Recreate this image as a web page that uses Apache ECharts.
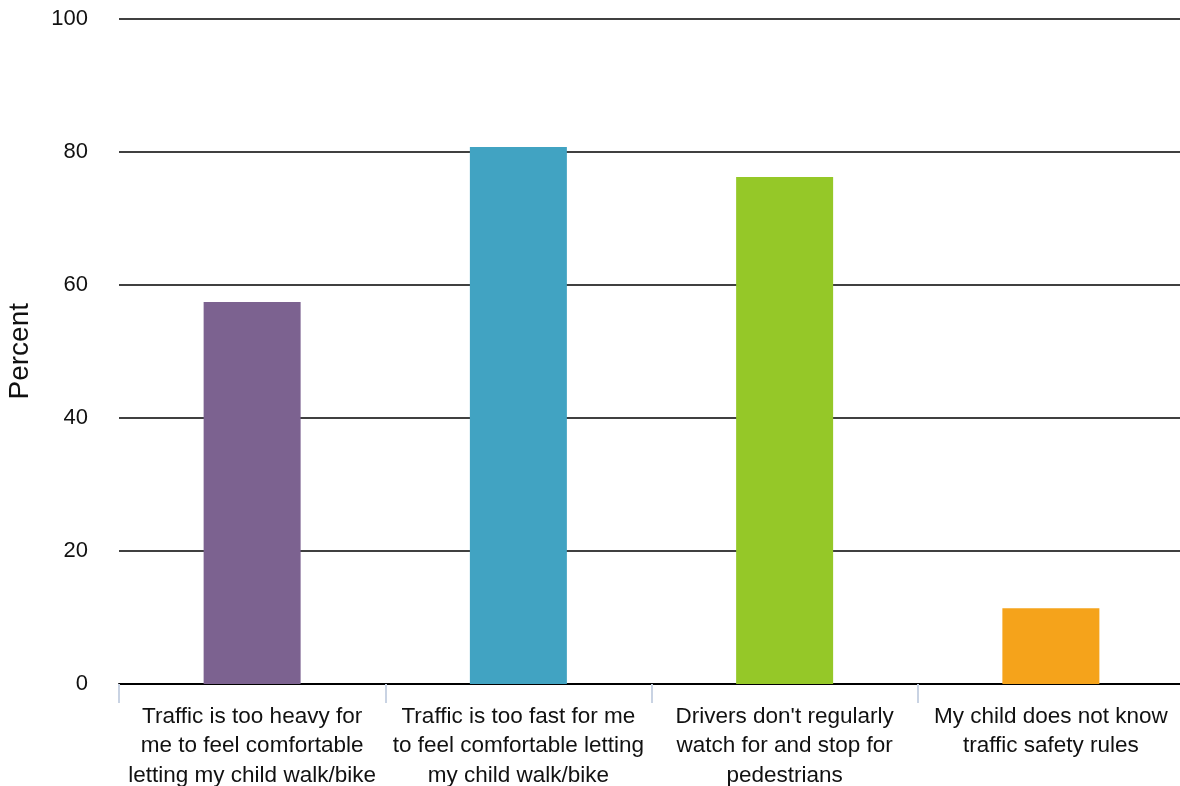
<!DOCTYPE html>
<html>
<head>
<meta charset="utf-8">
<script src="https://cdn.jsdelivr.net/npm/echarts@6/dist/echarts.min.js"></script>
<style>
html,body{margin:0;padding:0;background:#fff;}
#chart{width:1180px;height:786px;}
</style>
</head>
<body>
<div id="chart"></div>
<script>
const categories = [
  "Traffic is too heavy for\nme to feel comfortable\nletting my child walk/bike",
  "Traffic is too fast for me\nto feel comfortable letting\nmy child walk/bike",
  "Drivers don't regularly\nwatch for and stop for\npedestrians",
  "My child does not know\ntraffic safety rules"
];
const values = [57.4, 80.7, 76.2, 11.4];
const barColors = ["#7c6290", "#41a3c2", "#95c828", "#f5a31b"];
const yTicks = [0, 20, 40, 60, 80, 100];

const chart = echarts.init(document.getElementById('chart'));
chart.setOption({
  animation: false,
  backgroundColor: '#ffffff',
  grid: { left: 119, top: 18.5, width: 1065, height: 665.5, containLabel: false, outerBoundsMode: 'none' },
  xAxis: {
    type: 'category',
    data: categories,
    axisLine: { show: true, lineStyle: { color: '#000', width: 2 } },
    axisTick: { show: true, length: 19, lineStyle: { color: '#c9d3e3', width: 2 }, alignWithLabel: false },
    axisLabel: {
      interval: 0, margin: 18, color: '#111', fontSize: 22.5,
      fontFamily: 'Liberation Sans, Arial, sans-serif', lineHeight: 29.5, align: 'center'
    }
  },
  yAxis: {
    type: 'value',
    min: 0, max: 100, interval: 20,
    name: 'Percent',
    nameLocation: 'middle',
    nameGap: 85,
    nameRotate: 90,
    nameTextStyle: { color: '#111', fontSize: 28, fontFamily: 'Liberation Sans, Arial, sans-serif' },
    axisLine: { show: false },
    axisTick: { show: false },
    axisLabel: {
      margin: 31, color: '#111', fontSize: 22,
      fontFamily: 'Liberation Sans, Arial, sans-serif',
      formatter: v => yTicks.includes(v) ? String(v) : ''
    },
    splitLine: { show: true, lineStyle: { color: '#000', width: 1.5 } }
  },
  series: [{
    type: 'bar',
    data: values.map((v, i) => ({ value: v, itemStyle: { color: barColors[i] } })),
    barWidth: 97
  }]
});
</script>
</body>
</html>
